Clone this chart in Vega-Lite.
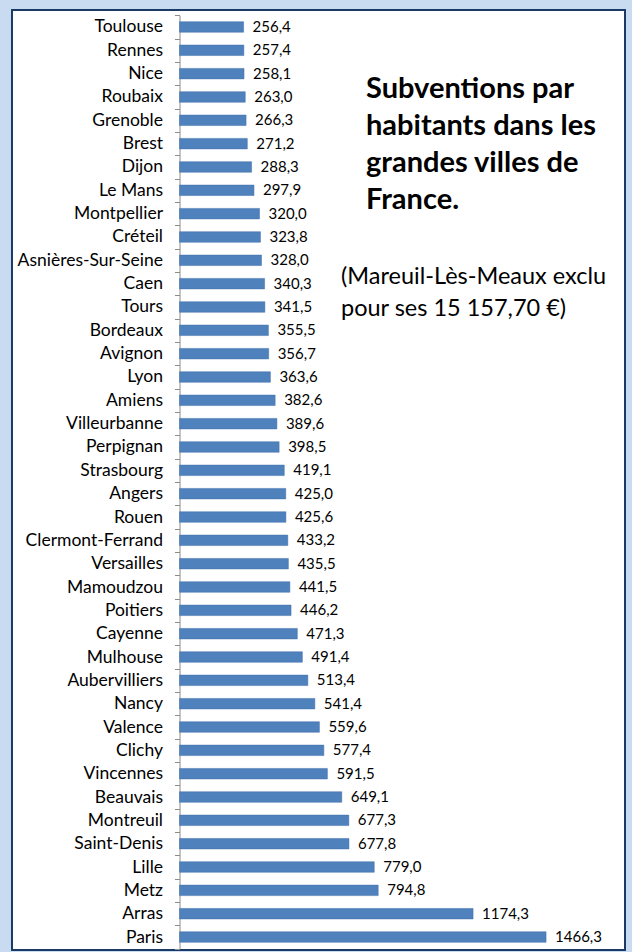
{
  "$schema": "https://vega.github.io/schema/vega-lite/v6.json",
  "width": 613,
  "height": 940,
  "autosize": "none",
  "padding": {"left": 12, "top": 10, "right": 7, "bottom": 2},
  "background": "#c8dbf1",
  "config": {
    "locale": {"number": {"decimal": ",", "thousands": " ", "grouping": [3], "currency": ["", " €"]}},
    "view": {"fill": "#ffffff", "stroke": "#1b3a66", "strokeWidth": 2},
    "font": "Lato"
  },
  "title": {
    "text": ["Subventions par", "habitants dans les", "grandes villes de", "France."],
    "anchor": "start",
    "frame": "group",
    "orient": "top",
    "offset": 0,
    "baseline": "top",
    "dx": 354,
    "dy": 214,
    "fontSize": 29,
    "fontWeight": "bold",
    "lineHeight": 37,
    "color": "#000000",
    "font": "Lato"
  },
  "data": {
    "values": [
      {"ville": "Toulouse", "subvention": 256.4},
      {"ville": "Rennes", "subvention": 257.4},
      {"ville": "Nice", "subvention": 258.1},
      {"ville": "Roubaix", "subvention": 263.0},
      {"ville": "Grenoble", "subvention": 266.3},
      {"ville": "Brest", "subvention": 271.2},
      {"ville": "Dijon", "subvention": 288.3},
      {"ville": "Le Mans", "subvention": 297.9},
      {"ville": "Montpellier", "subvention": 320.0},
      {"ville": "Créteil", "subvention": 323.8},
      {"ville": "Asnières-Sur-Seine", "subvention": 328.0},
      {"ville": "Caen", "subvention": 340.3},
      {"ville": "Tours", "subvention": 341.5},
      {"ville": "Bordeaux", "subvention": 355.5},
      {"ville": "Avignon", "subvention": 356.7},
      {"ville": "Lyon", "subvention": 363.6},
      {"ville": "Amiens", "subvention": 382.6},
      {"ville": "Villeurbanne", "subvention": 389.6},
      {"ville": "Perpignan", "subvention": 398.5},
      {"ville": "Strasbourg", "subvention": 419.1},
      {"ville": "Angers", "subvention": 425.0},
      {"ville": "Rouen", "subvention": 425.6},
      {"ville": "Clermont-Ferrand", "subvention": 433.2},
      {"ville": "Versailles", "subvention": 435.5},
      {"ville": "Mamoudzou", "subvention": 441.5},
      {"ville": "Poitiers", "subvention": 446.2},
      {"ville": "Cayenne", "subvention": 471.3},
      {"ville": "Mulhouse", "subvention": 491.4},
      {"ville": "Aubervilliers", "subvention": 513.4},
      {"ville": "Nancy", "subvention": 541.4},
      {"ville": "Valence", "subvention": 559.6},
      {"ville": "Clichy", "subvention": 577.4},
      {"ville": "Vincennes", "subvention": 591.5},
      {"ville": "Beauvais", "subvention": 649.1},
      {"ville": "Montreuil", "subvention": 677.3},
      {"ville": "Saint-Denis", "subvention": 677.8},
      {"ville": "Lille", "subvention": 779.0},
      {"ville": "Metz", "subvention": 794.8},
      {"ville": "Arras", "subvention": 1174.3},
      {"ville": "Paris", "subvention": 1466.3}
    ]
  },
  "encoding": {
    "y": {
      "field": "ville",
      "type": "nominal",
      "sort": null,
      "scale": {"range": [5.3, 938.7], "paddingInner": 0, "paddingOuter": 0},
      "axis": {
        "title": null,
        "offset": -167.5,
        "tickBand": "extent",
        "tickSize": 5,
        "tickColor": "#8c8c8c",
        "domainColor": "#8c8c8c",
        "labelPadding": 12,
        "labelFontSize": 17.5,
        "labelFont": "Lato",
        "labelColor": "#000000",
        "labelLimit": 300
      }
    },
    "x": {
      "field": "subvention",
      "type": "quantitative",
      "scale": {"domain": [-670, 1782], "nice": false, "zero": false},
      "axis": null
    }
  },
  "layer": [
    {
      "mark": {"type": "bar", "height": {"band": 0.45}, "color": "#4f81bd", "stroke": "#3f6fa8", "strokeWidth": 0.5},
      "encoding": {
        "x": {"datum": 0, "type": "quantitative"},
        "x2": {"field": "subvention"}
      }
    },
    {
      "mark": {"type": "text", "align": "left", "baseline": "middle", "dx": 9, "fontSize": 15, "font": "Lato", "color": "#000000"},
      "encoding": {
        "text": {"field": "subvention", "type": "quantitative", "format": ".1f"}
      }
    },
    {
      "transform": [{"filter": "datum.ville === 'Caen'"}],
      "mark": {"type": "text", "align": "left", "baseline": "alphabetic", "dy": 0, "fontSize": 23.5, "font": "Lato", "color": "#000000", "lineHeight": 32,
        "text": ["(Mareuil-Lès-Meaux exclu", "pour ses 15 157,70 €)"]},
      "encoding": {
        "x": {"datum": 646, "type": "quantitative"}
      }
    }
  ]
}
